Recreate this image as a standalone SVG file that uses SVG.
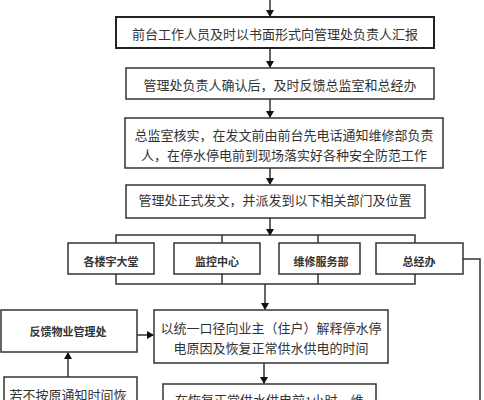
<svg xmlns="http://www.w3.org/2000/svg" width="484" height="400" viewBox="0 0 484 400">
<style>
.bx{fill:#fff;stroke:#333;stroke-width:1.5}
.bx2{fill:#fff;stroke:#222;stroke-width:2}
.t{font-family:"Liberation Serif","Noto Sans CJK SC",serif;font-size:13px;fill:#333;text-anchor:middle}
.s{font-family:"Liberation Sans","Noto Sans CJK SC",sans-serif;font-size:11px;font-weight:bold;fill:#333;text-anchor:middle}
.ln{fill:none;stroke:#333;stroke-width:1.5}
</style>
<defs>
<marker id="ah" markerWidth="7" markerHeight="8" refX="6" refY="4" orient="auto" markerUnits="userSpaceOnUse">
<path d="M0,0 L7,4 L0,8 Z" fill="#111"/>
</marker>
</defs>
<rect width="484" height="400" fill="#fff"/>
<g id="connectors">
<line class="ln" x1="270" y1="0" x2="270" y2="16" marker-end="url(#ah)"/>
<line class="ln" x1="270" y1="48" x2="270" y2="67" marker-end="url(#ah)"/>
<line class="ln" x1="270" y1="99" x2="270" y2="117" marker-end="url(#ah)"/>
<line class="ln" x1="270" y1="168" x2="270" y2="184" marker-end="url(#ah)"/>
<line class="ln" x1="270" y1="218" x2="270" y2="235" marker-end="url(#ah)"/>
<path class="ln" d="M116,243 V235 H415 V243 M222,235 V243 M318,235 V243"/>
<path class="ln" d="M116,274 V284 H415 V274 M222,274 V284 M318,274 V284"/>
<line class="ln" x1="265" y1="284" x2="265" y2="309" marker-end="url(#ah)"/>
<line class="ln" x1="137" y1="335" x2="153" y2="335" marker-end="url(#ah)"/>
<line class="ln" x1="68" y1="377" x2="68" y2="353" marker-end="url(#ah)"/>
<line class="ln" x1="264" y1="363" x2="264" y2="383" marker-end="url(#ah)"/>
<polyline class="ln" points="463,259 480,259 480,400"/>
</g>
<g id="n1"><rect class="bx2" x="116" y="17" width="318" height="31"/><text class="t" x="275" y="39">前台工作人员及时以书面形式向管理处负责人汇报</text></g>
<g id="n2"><rect class="bx" x="126" y="68" width="308" height="31"/><text class="t" x="280" y="90">管理处负责人确认后，及时反馈总监室和总经办</text></g>
<g id="n3"><rect class="bx" x="125" y="118" width="318" height="50"/><text class="t" x="284" y="140">总监室核实，在发文前由前台先电话通知维修部负责</text><text class="t" x="284" y="160">人，在停水停电前到现场落实好各种安全防范工作</text></g>
<g id="n4"><rect class="bx" x="126" y="185" width="299" height="33"/><text class="t" x="275" y="205">管理处正式发文，并派发到以下相关部门及位置</text></g>
<g id="nA"><rect class="bx" x="68" y="243" width="86" height="31"/><text class="s" x="111" y="266">各楼宇大堂</text></g>
<g id="nB"><rect class="bx" x="174" y="243" width="86" height="31"/><text class="s" x="217" y="266">监控中心</text></g>
<g id="nC"><rect class="bx" x="279" y="243" width="81" height="31"/><text class="s" x="321" y="266">维修服务部</text></g>
<g id="nD"><rect class="bx" x="376" y="243" width="87" height="31"/><text class="s" x="419" y="266">总经办</text></g>
<g id="nE"><rect class="bx" x="154" y="310" width="234" height="53"/><text class="t" x="271" y="333">以统一口径向业主（住户）解释停水停</text><text class="t" x="271" y="353">电原因及恢复正常供水供电的时间</text></g>
<g id="nF"><rect class="bx" x="1" y="310" width="136" height="42"/><text class="s" x="68" y="336">反馈物业管理处</text></g>
<g id="nG"><rect class="bx" x="4" y="377" width="133" height="40"/><text class="t" x="68" y="400">若不按原通知时间恢</text></g>
<g id="nH"><rect class="bx" x="163" y="384" width="213" height="30"/><text class="t" x="175" y="405" style="text-anchor:start">在恢复正常供水供电前1小时，维</text></g>
</svg>
